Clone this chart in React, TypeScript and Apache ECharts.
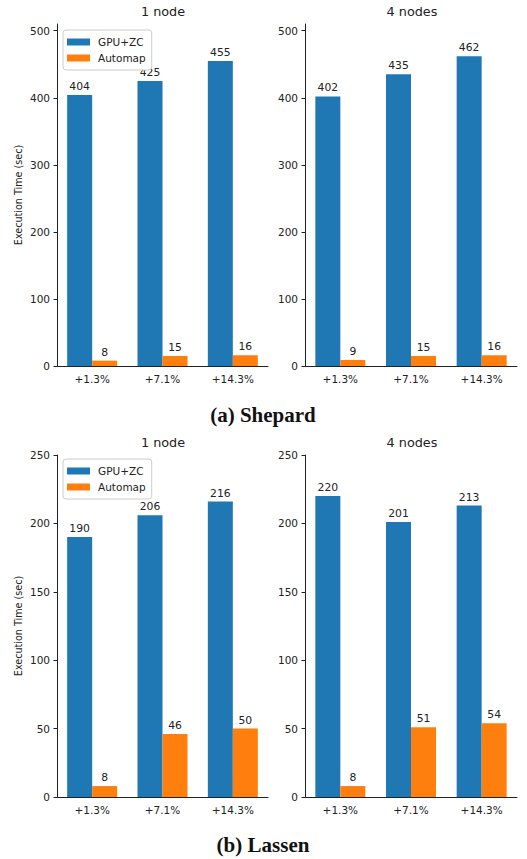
import React, { useEffect, useRef } from "react";
import * as echarts from "echarts";

const categories = ["+1.3%", "+7.1%", "+14.3%"];
const seriesNames = ["GPU+ZC", "Automap"];

const shepard1NodeGpuZc = [404, 425, 455];
const shepard1NodeAutomap = [8, 15, 16];
const shepard4NodesGpuZc = [402, 435, 462];
const shepard4NodesAutomap = [9, 15, 16];

const lassen1NodeGpuZc = [190, 206, 216];
const lassen1NodeAutomap = [8, 46, 50];
const lassen4NodesGpuZc = [220, 201, 213];
const lassen4NodesAutomap = [8, 51, 54];

const panelTitles = ["1 node", "4 nodes", "1 node", "4 nodes"];
const shepardTicks = [0, 100, 200, 300, 400, 500];
const lassenTicks = [0, 50, 100, 150, 200, 250];
const captions = ["(a) Shepard", "(b) Lassen"];
const yAxisName = "Execution Time (sec)";

const BLUE = "#1f77b4";
const ORANGE = "#ff7f0e";
const INK = "#222222";
const FONT = "DejaVu Sans";

export default function App() {
  const ref = useRef<HTMLDivElement>(null);

  useEffect(() => {
    if (!ref.current) return;
    const chart = echarts.init(ref.current, null, { renderer: "svg" });

    const grids = [
      { left: 57, top: 24, width: 211, height: 342 },
      { left: 305, top: 24, width: 212, height: 342 },
      { left: 57, top: 455, width: 211, height: 342 },
      { left: 305, top: 455, width: 212, height: 342 },
    ];
    const titleCenters = [
      { x: 163, y: 5 },
      { x: 412, y: 5 },
      { x: 163, y: 436 },
      { x: 412, y: 436 },
    ];
    const panelData = [
      [shepard1NodeGpuZc, shepard1NodeAutomap],
      [shepard4NodesGpuZc, shepard4NodesAutomap],
      [lassen1NodeGpuZc, lassen1NodeAutomap],
      [lassen4NodesGpuZc, lassen4NodesAutomap],
    ];

    const axisLineStyle = { color: INK, width: 1 };

    const xAxes = grids.map((_, i) => ({
      type: "category",
      gridIndex: i,
      data: categories,
      axisLine: { lineStyle: axisLineStyle },
      axisTick: { alignWithLabel: true, length: 3.5, lineStyle: axisLineStyle },
      axisLabel: { color: INK, fontSize: 10.5, fontFamily: FONT, margin: 7 },
      splitLine: { show: false },
    }));

    const yAxes = grids.map((_, i) => {
      const top = i < 2;
      const ticks = top ? shepardTicks : lassenTicks;
      const left = i % 2 === 0;
      return {
        type: "value",
        gridIndex: i,
        min: 0,
        max: top ? 510 : 250,
        interval: top ? 100 : 50,
        name: left ? yAxisName : "",
        nameLocation: "middle",
        nameRotate: 90,
        nameGap: 34,
        nameTextStyle: { color: INK, fontSize: 9.6, fontFamily: FONT },
        axisLine: { show: true, lineStyle: axisLineStyle },
        axisTick: { show: true, length: 3.5, lineStyle: axisLineStyle, customValues: ticks },
        axisLabel: { color: INK, fontSize: 10.5, fontFamily: FONT, margin: 7, customValues: ticks },
        splitLine: { show: false },
      };
    });

    const series: any[] = [];
    panelData.forEach((pair, i) => {
      pair.forEach((vals, k) => {
        series.push({
          type: "bar",
          name: seriesNames[k],
          xAxisIndex: i,
          yAxisIndex: i,
          data: vals,
          barWidth: 25,
          barGap: "0%",
          itemStyle: { color: k === 0 ? BLUE : ORANGE },
          label: {
            show: true,
            position: "top",
            distance: 3,
            color: INK,
            fontSize: 10.8,
            fontFamily: FONT,
          },
        });
      });
    });

    const legendBase = {
      orient: "vertical",
      left: 63,
      data: seriesNames,
      icon: "rect",
      itemWidth: 23,
      itemHeight: 7,
      itemGap: 4,
      padding: [6, 6, 6, 4],
      borderColor: "#cccccc",
      borderWidth: 1,
      borderRadius: 3,
      backgroundColor: "#ffffff",
      selectedMode: false,
      textStyle: { color: INK, fontSize: 10.5, fontFamily: FONT, lineHeight: 12, padding: [0, 0, 0, 3] },
    };

    const titles: any[] = panelTitles.map((t, i) => ({
      text: t,
      left: titleCenters[i].x,
      top: titleCenters[i].y,
      textAlign: "center",
      textStyle: { color: INK, fontSize: 12.8, fontWeight: "normal", fontFamily: FONT },
      padding: 0,
    }));
    titles.push({
      text: captions[0],
      left: 263,
      top: 404,
      textAlign: "center",
      padding: 0,
      textStyle: { color: "#111", fontSize: 21, fontWeight: "bold", fontFamily: "Liberation Serif" },
    });
    titles.push({
      text: captions[1],
      left: 263,
      top: 834,
      textAlign: "center",
      padding: 0,
      textStyle: { color: "#111", fontSize: 21, fontWeight: "bold", fontFamily: "Liberation Serif" },
    });

    chart.setOption({
      animation: false,
      backgroundColor: "#ffffff",
      textStyle: { fontFamily: FONT },
      title: titles,
      legend: [
        { ...legendBase, top: 30 },
        { ...legendBase, top: 459 },
      ],
      grid: grids,
      xAxis: xAxes,
      yAxis: yAxes,
      series,
    });

    return () => chart.dispose();
  }, []);

  return (
    <div
      ref={ref}
      style={{ position: "absolute", left: 0, top: 0, width: 527, height: 859 }}
    />
  );
}
